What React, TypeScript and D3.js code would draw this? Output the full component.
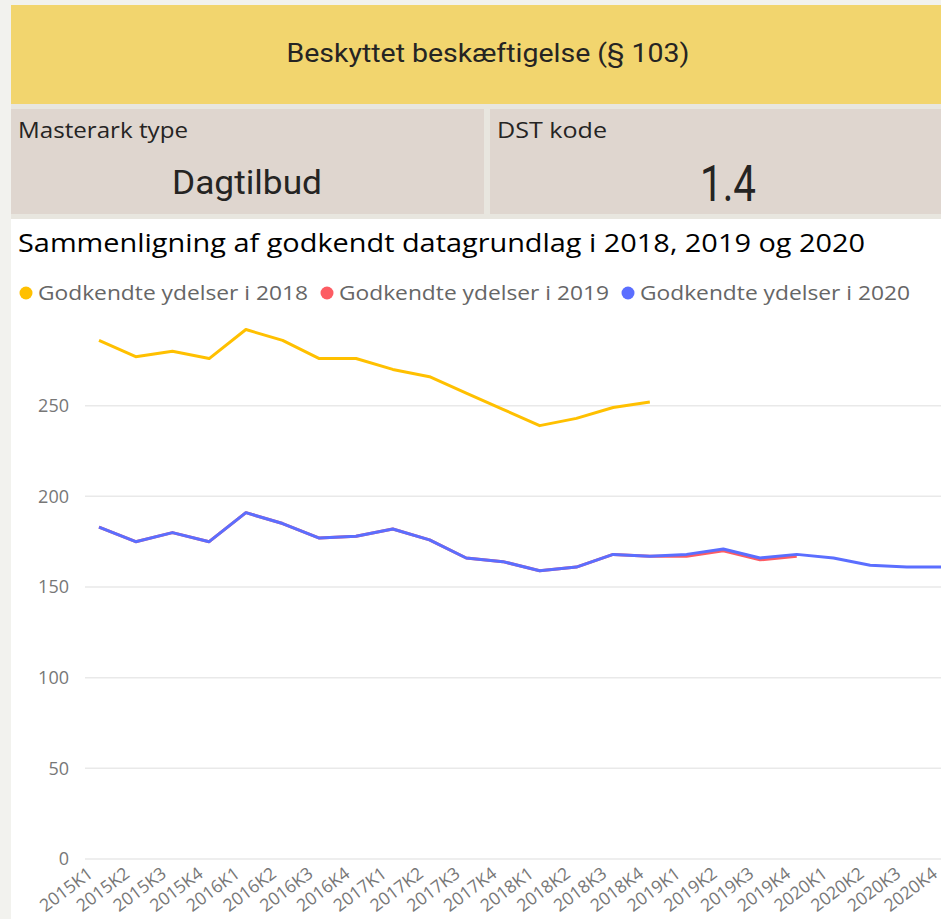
import React from "react";
import * as d3 from "d3";

const categories = [
  "2015K1", "2015K2", "2015K3", "2015K4",
  "2016K1", "2016K2", "2016K3", "2016K4",
  "2017K1", "2017K2", "2017K3", "2017K4",
  "2018K1", "2018K2", "2018K3", "2018K4",
  "2019K1", "2019K2", "2019K3", "2019K4",
  "2020K1", "2020K2", "2020K3", "2020K4",
];

const values2018 = [286, 277, 280, 276, 292, 286, 276, 276, 270, 266, 257, 248, 239, 243, 249, 252];
const values2019 = [183, 175, 180, 175, 191, 185, 177, 178, 182, 176, 166, 164, 159, 161, 168, 167, 167, 170, 165, 167];
const values2020 = [183, 175, 180, 175, 191, 185, 177, 178, 182, 176, 166, 164, 159, 161, 168, 167, 168, 171, 166, 168, 166, 162, 161, 161];

const yTicks = [0, 50, 100, 150, 200, 250];

const seriesNames = ["Godkendte ydelser i 2018", "Godkendte ydelser i 2019", "Godkendte ydelser i 2020"];
const seriesColors = ["#FFC000", "#FD5C63", "#5B6EFF"];

const headerTitle = "Beskyttet beskæftigelse (§ 103)";
const card1Label = "Masterark type";
const card1Value = "Dagtilbud";
const card2Label = "DST kode";
const card2Value = "1.4";
const chartTitle = "Sammenligning af godkendt datagrundlag i 2018, 2019 og 2020";

const W = 941;
const H = 919;

export default function App() {
  const x = d3.scalePoint<string>().domain(categories).range([99, 943.6]);
  const y = d3.scaleLinear().domain([0, 250]).range([859, 405.7]);

  const allSeries = [values2018, values2019, values2020];
  const line = d3
    .line<number>()
    .x((_, i) => x(categories[i]) as number)
    .y((d) => y(d));

  const segoe = "'Segoe UI', 'Open Sans', 'Noto Sans', sans-serif";
  const din = "Roboto, 'DejaVu Sans', sans-serif";

  const legendX = [26, 327, 628];

  return (
    <svg
      width={W}
      height={H}
      style={{ position: "absolute", left: 0, top: 0, display: "block" }}
    >
      <rect x={0} y={0} width={W} height={H} fill="#f2f2ee" />
      {/* header */}
      <rect x={11} y={5} width={W - 11} height={99} fill="#f2d56e" />
      <text
        x={488}
        y={62}
        textAnchor="middle"
        fontFamily={din}
        fontSize={25}
        fill="#252423"
        textLength={403}
        lengthAdjust="spacingAndGlyphs"
      >
        {headerTitle}
      </text>
      {/* cards */}
      <rect x={11} y={104} width={W - 11} height={115} fill="#e8e6df" />
      <rect x={11} y={109} width={473} height={105} fill="#dfd6cf" />
      <rect x={490} y={109} width={W - 490} height={105} fill="#dfd6cf" />
      <text
        x={18}
        y={138}
        fontFamily={segoe}
        fontSize={22}
        fill="#252423"
        textLength={170}
        lengthAdjust="spacingAndGlyphs"
      >
        {card1Label}
      </text>
      <text
        x={247}
        y={194}
        textAnchor="middle"
        fontFamily={din}
        fontSize={34}
        fill="#252423"
        textLength={150}
        lengthAdjust="spacingAndGlyphs"
      >
        {card1Value}
      </text>
      <text
        x={497}
        y={138}
        fontFamily={segoe}
        fontSize={22}
        fill="#252423"
        textLength={110}
        lengthAdjust="spacingAndGlyphs"
      >
        {card2Label}
      </text>
      <text
        x={728}
        y={201}
        textAnchor="middle"
        fontFamily={din}
        fontSize={50}
        fill="#252423"
        textLength={56}
        lengthAdjust="spacingAndGlyphs"
      >
        {card2Value}
      </text>
      {/* chart area */}
      <rect x={11} y={219} width={W - 11} height={H - 219} fill="#ffffff" />
      <text
        x={18}
        y={252}
        fontFamily={segoe}
        fontSize={26}
        fill="#000000"
        textLength={847}
        lengthAdjust="spacingAndGlyphs"
      >
        {chartTitle}
      </text>
      {seriesNames.map((name, i) => (
        <g key={name}>
          <circle cx={legendX[i]} cy={293} r={6.5} fill={seriesColors[i]} />
          <text
            x={legendX[i] + 12}
            y={300}
            fontFamily={segoe}
            fontSize={20}
            fill="#666666"
            textLength={270}
            lengthAdjust="spacingAndGlyphs"
          >
            {name}
          </text>
        </g>
      ))}
      {/* gridlines and y labels */}
      {yTicks.map((t) => (
        <g key={t}>
          <line x1={85} x2={W} y1={y(t)} y2={y(t)} stroke="#e9e9e9" strokeWidth={1.5} />
          <text
            x={69}
            y={y(t)}
            dy="0.35em"
            textAnchor="end"
            fontFamily={segoe}
            fontSize={18}
            fill="#777777"
          >
            {t}
          </text>
        </g>
      ))}
      {/* x labels */}
      {categories.map((c) => (
        <text
          key={c}
          transform={`translate(${(x(c) as number) - 5},${876}) rotate(-37)`}
          textAnchor="end"
          fontFamily={segoe}
          fontSize={17.5}
          fill="#777777"
        >
          {c}
        </text>
      ))}
      {/* lines */}
      {allSeries.map((vals, i) => (
        <path
          key={i}
          d={line(vals) || ""}
          fill="none"
          stroke={seriesColors[i]}
          strokeWidth={3}
          strokeLinejoin="round"
          strokeLinecap="butt"
        />
      ))}
    </svg>
  );
}
